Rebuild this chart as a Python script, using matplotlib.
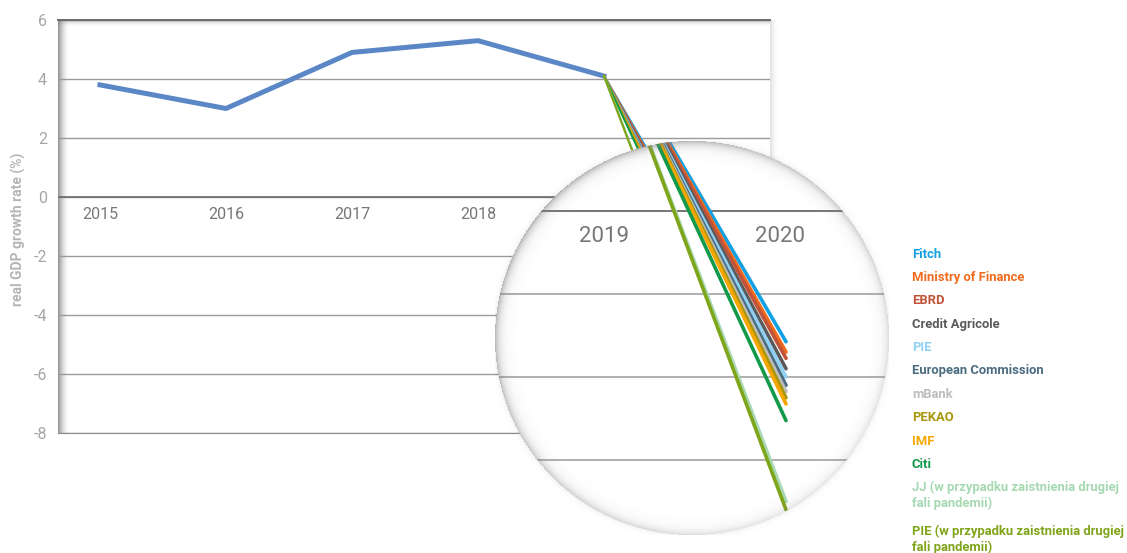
import numpy as np
import matplotlib
matplotlib.use("Agg")
import matplotlib.pyplot as plt
from matplotlib.patches import Circle

plt.rcParams['font.family'] = ['Roboto', 'DejaVu Sans']
plt.rcParams['axes.unicode_minus'] = False

# Real GDP growth, Poland, with 2020 forecasts
years = ['2015', '2016', '2017', '2018', '2019', '2020']
gdp_actual = [3.8, 3.0, 4.9, 5.3, 4.1]

forecasters = [
    'Fitch', 'Ministry of Finance', 'EBRD', 'Credit Agricole', 'PIE',
    'European Commission', 'mBank', 'PEKAO', 'IMF', 'Citi',
    'JJ (w przypadku zaistnienia drugiej\nfali pandemii)',
    'PIE (w przypadku zaistnienia drugiej\nfali pandemii)',
]
forecast_2020 = [-3.15, -3.4, -3.55, -3.8, -4.0, -4.2, -4.35, -4.5, -4.65, -5.05, -7.0, -7.2]
forecast_colors = ['#11a0e3', '#f26a1b', '#c0533a', '#5a5a5a', '#8fd0f3', '#4b6c80',
                   '#bdbdbd', '#a8960c', '#f6a600', '#12994a', '#a6d9b1', '#7fa51a']

y_ticks = [6, 4, 2, 0, -2, -4, -6, -8]

W, H = 1127, 553
fig = plt.figure(figsize=(W / 100, H / 100), dpi=100)


def px_box(left, top, right, bottom):
    return [left / W, 1 - bottom / H, (right - left) / W, (bottom - top) / H]


def shade(ax, extent, horizontal, strength):
    # gray gradient strip, darkest at the first edge
    n = 48
    g = np.linspace(0, 1, n)
    a = strength * (1 - g) ** 2
    img = np.zeros((1, n, 4)) if horizontal else np.zeros((n, 1, 4))
    img[..., :3] = 0.42
    if horizontal:
        img[0, :, 3] = a
    else:
        img[:, 0, 3] = a
    im = ax.imshow(img, extent=extent, transform=ax.transAxes, aspect='auto',
                   origin='upper', interpolation='bilinear', zorder=0.5)
    im.set_clip_on(False)


# ---- main chart ----
ax = fig.add_axes(px_box(58, 20, 770, 433))
x_main = np.arange(len(gdp_actual))

wpx, hpx = 712, 413
shade(ax, (0, 12 / wpx, 0, 1), True, 0.75)
shade(ax, (0, 1, 1 - 7 / hpx, 1), False, 0.45)
shade(ax, (1, 1 + 9 / wpx, 0, 1), True, 0.22)

ax.plot(x_main, gdp_actual, color='#5b87c6', lw=3.6, zorder=3)
for v, c in zip(forecast_2020, forecast_colors):
    ax.plot([4, 5], [gdp_actual[-1], v], color=c, lw=1.6, zorder=3)

ax.set_yticks(y_ticks)
ax.yaxis.grid(True, color='#9a9a9a', lw=1.0)
ax.axhline(0, color='#6a6a6a', lw=1.2, zorder=2)
ax.set_xticks([])
ax.tick_params(axis='y', length=0, labelcolor='#a6a6a6', labelsize=11.5, pad=8)
for i, yr in enumerate(years):
    ax.annotate(yr, xy=(i, 0), xytext=(0, -12.5), textcoords='offset points',
                ha='center', va='center', fontsize=11.5, color='#777777')

for s in ['left', 'right']:
    ax.spines[s].set_visible(False)
ax.spines['top'].set_color('#6a6a6a')
ax.spines['top'].set_linewidth(1.4)
ax.spines['bottom'].set_color('#8a8a8a')
ax.set_xlim(-0.333, 5.317)
ax.set_ylim(-8, 6)

fig.text(18 / W, 1 - 229 / H, 'real GDP growth rate (%)', rotation=90,
         ha='center', va='center', fontsize=10, fontweight='bold', color='#b5b5b5')

# ---- magnifier ----
lens = fig.add_axes(px_box(495, 141, 889, 535), zorder=3)
lens.axis('off')
lens_xlim = (3.3466, 5.585)
lens_ylim = (-7.807, 1.687)

disc = Circle((0.5, 0.5), 0.5, transform=lens.transAxes, facecolor='white',
              edgecolor='none', zorder=0)
lens.add_patch(disc)

for v in y_ticks:
    gl = lens.axhline(v, color='#6a6a6a' if v == 0 else '#9a9a9a',
                      lw=1.3 if v == 0 else 1.1, zorder=1)
    gl.set_clip_path(disc)

for v, c in zip(forecast_2020, forecast_colors):
    ln, = lens.plot([4, 5], [gdp_actual[-1], v], color=c, lw=2.6,
                    solid_capstyle='round', zorder=3)
    ln.set_clip_path(disc)

for i in (4, 5):
    t = lens.annotate(years[i], xy=(i, 0), xytext=(-4.5, -18), textcoords='offset points',
                      ha='center', va='center', fontsize=16, color='#777777', zorder=2)
    t.set_clip_path(disc)

# rim shading
n = 394
yy, xx = np.mgrid[0:n, 0:n] + 0.5
dx, dy = xx - n / 2, yy - n / 2
d = np.hypot(dx, dy)
rim = n / 2 - d
weight = 1 + 0.5 * (-(dx + dy) / (np.maximum(d, 1) * np.sqrt(2)))
alpha = np.where(rim >= 0, 0.42 * np.exp(-rim / 4.5) * weight, 0.12 * np.exp(rim / 2.0))
rim_img = np.zeros((n, n, 4))
rim_img[..., :3] = 0.5
rim_img[..., 3] = np.clip(alpha, 0, 0.7)
lens.imshow(rim_img, extent=(0, 1, 0, 1), transform=lens.transAxes, origin='upper',
            interpolation='bilinear', zorder=6)

lens.set_xlim(*lens_xlim)
lens.set_ylim(*lens_ylim)

# ---- legend ----
y = 253
for name, col in zip(forecasters, forecast_colors):
    parts = name.split('\n')
    for j, part in enumerate(parts):
        fig.text(912 / W, 1 - (y + 4.5 + 15.5 * j) / H, part, color=col, fontsize=9.4,
                 fontweight='bold', ha='left', va='baseline')
    y += 23.4 + 20.5 * (len(parts) - 1)

fig.savefig('out.png', dpi=100)
